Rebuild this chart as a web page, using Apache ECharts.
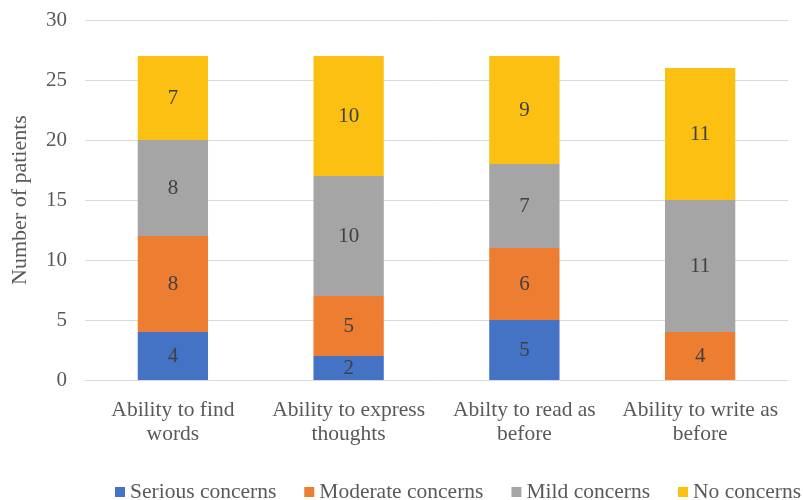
<!DOCTYPE html>
<html><head><meta charset="utf-8">
<script src="https://cdn.jsdelivr.net/npm/echarts@6/dist/echarts.min.js"></script>
<style>html,body{margin:0;padding:0;background:#fff}#c{width:803px;height:500px}</style>
</head><body><div id="c"></div>
<script>
var categories = ['Ability to find\nwords', 'Ability to express\nthoughts', 'Abilty to read as\nbefore', 'Ability to write as\nbefore'];
var serious = [4, 2, 5, 0];
var moderate = [8, 5, 6, 4];
var mild = [8, 10, 7, 11];
var noConcerns = [7, 10, 9, 11];
var seriesNames = ['Serious concerns', 'Moderate concerns', 'Mild concerns', 'No concerns'];
var colors = ['#4472C4', '#ED7D31', '#A5A5A5', '#FBC012'];
var FONT = '"Liberation Serif", "Times New Roman", serif';
var chart = echarts.init(document.getElementById('c'));
function mk(name, data, color) {
  return {
    name: name, type: 'bar', stack: 'a', barWidth: '40%',
    data: data.map(function (v) { return v === 0 ? null : v; }),
    itemStyle: { color: color },
    label: { show: true, position: 'inside', color: '#404040', fontFamily: FONT, fontSize: 21 },
    emphasis: { disabled: true }
  };
}
chart.setOption({
  animation: false,
  color: colors,
  grid: { left: 85, right: 15, top: 20, bottom: 120, containLabel: false, outerBoundsMode: 'none' },
  legend: {
    bottom: -8, left: 110, width: 1000, itemWidth: 10, itemHeight: 10, itemGap: 28, icon: 'rect',
    textStyle: { fontFamily: FONT, fontSize: 21.5, color: '#595959' },
    data: seriesNames
  },
  xAxis: {
    type: 'category', data: categories,
    axisLine: { lineStyle: { color: '#d9d9d9' } },
    axisTick: { show: false },
    axisLabel: { fontFamily: FONT, fontSize: 21.5, color: '#595959', lineHeight: 24, margin: 18, interval: 0 }
  },
  yAxis: {
    type: 'value', min: 0, max: 30, interval: 5,
    name: 'Number of patients', nameLocation: 'middle', nameGap: 54,
    nameTextStyle: { fontFamily: FONT, fontSize: 22, color: '#595959' },
    axisLabel: { fontFamily: FONT, fontSize: 21, color: '#595959', margin: 18 },
    splitLine: { lineStyle: { color: '#d9d9d9' } },
    axisLine: { show: false }, axisTick: { show: false }
  },
  series: [
    mk(seriesNames[0], serious, colors[0]),
    mk(seriesNames[1], moderate, colors[1]),
    mk(seriesNames[2], mild, colors[2]),
    mk(seriesNames[3], noConcerns, colors[3])
  ]
});
</script></body></html>
